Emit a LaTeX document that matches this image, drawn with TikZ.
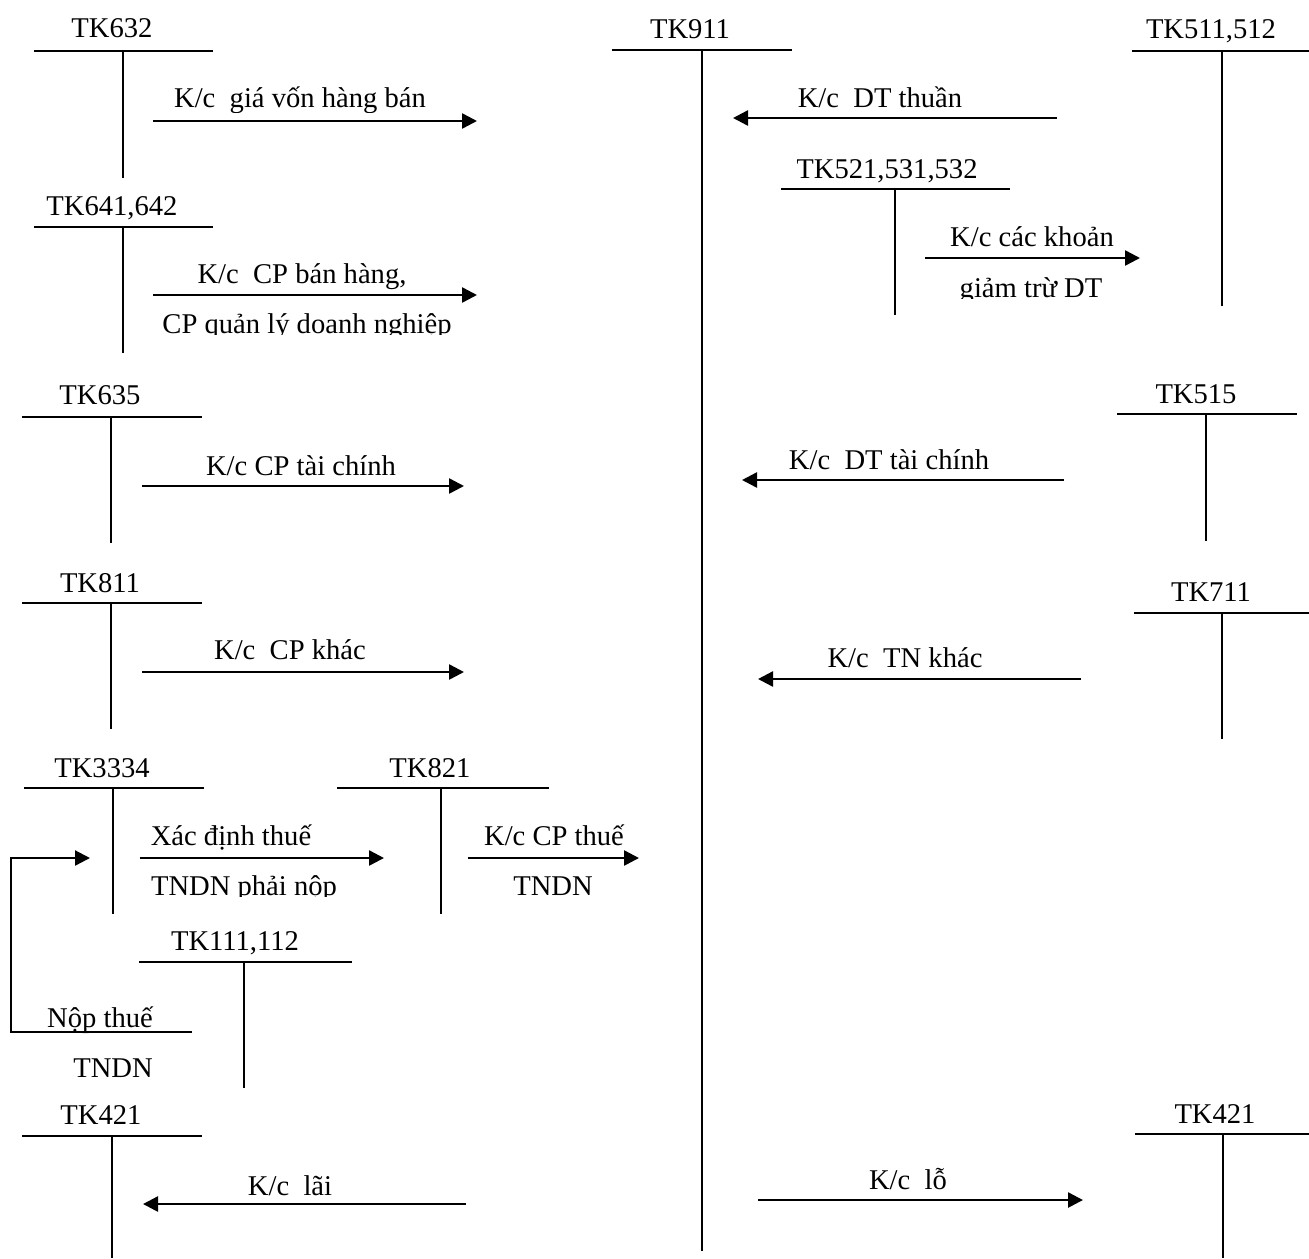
\documentclass[tikz,border=0pt]{standalone}
\usepackage{fontspec}
\setmainfont{Liberation Serif}
\usetikzlibrary{arrows.meta}

% T-account: name, title, title x, title baseline y, bar left x, bar right x, bar y, stem x, stem bottom y
\newcommand\TAcct[9]{%
  \node[acct] (#1) at (#3,#4) {#2};
  \coordinate (#1-l) at (#5,#7);
  \coordinate (#1-r) at (#6,#7);
  \coordinate (#1-t) at (#8,#7);
  \coordinate (#1-b) at (#8,#9);
  \draw[tbar] (#1-l) -- (#1-r);
  \draw[tstem] (#1-t) -- (#1-b);}

\tikzset{
  txt/.style={inner sep=0pt, anchor=base, font=\fontsize{14.3pt}{17pt}\selectfont},
  acct/.style={txt},
  tbar/.style={line width=0.85pt},
  tstem/.style={line width=0.7pt},
  flow/.style={line width=1.25pt, -{Triangle[length=7.5pt,width=7.5pt]}},
}

\begin{document}
\begin{tikzpicture}[x=0.5pt,y=-0.5pt]
\useasboundingbox (0,0) rectangle (1309,1258);

% accounts
\TAcct{a632}{TK632}{112}{37}{34}{213}{51}{123}{178}
\TAcct{a641}{TK641,642}{112}{215}{34}{213}{227}{123}{353}
\TAcct{a911}{TK911}{690}{38}{612}{792}{50}{702}{1251}
\TAcct{a511}{TK511,512}{1211}{38}{1132}{1309}{51}{1222}{306}
\begin{scope}
  \clip (797,140) rectangle (1010,188);
  \TAcct{a521}{TK521,531,532}{887}{178}{781}{1010}{189}{895}{315}
\end{scope}
\draw[tbar] (a521-l) -- (a521-r);
\draw[tstem] (a521-t) -- (a521-b);
\TAcct{a635}{TK635}{100}{404}{22}{202}{417}{111}{543}
\TAcct{a515}{TK515}{1196}{403}{1117}{1297}{414}{1206}{541}
\TAcct{a811}{TK811}{100}{592}{22}{202}{603}{111}{729}
\TAcct{a711}{TK711}{1211}{601}{1134}{1309}{613}{1222}{739}
\TAcct{a3334}{TK3334}{102}{777}{24}{204}{788}{113}{914}
\TAcct{a821}{TK821}{430}{777}{337}{549}{788}{441}{914}
\TAcct{a111}{TK111,112}{235}{950}{139}{352}{962}{244}{1088}
\TAcct{a421l}{TK421}{101}{1124}{22}{202}{1136}{112}{1258}
\TAcct{a421r}{TK421}{1215}{1123}{1135}{1309}{1134}{1223}{1258}

% transfers to TK911 (left side)
\coordinate (f1s) at (153,121);  \coordinate (f1e) at (477,121);
\draw[flow] (f1s) -- (f1e);
\begin{scope}
  \clip (140,60) rectangle (480,112);
  \node[txt] (t1) at (300,107) {K/c\ \ giá vốn hàng bán};
\end{scope}

\coordinate (f4s) at (153,295);  \coordinate (f4e) at (477,295);
\draw[flow] (f4s) -- (f4e);
\node[txt] (t4a) at (302,283) {K/c\ \ CP bán hàng,};
\begin{scope}
  \clip (140,300) rectangle (480,334);
  \node[txt] (t4b) at (307,333) {CP quản lý doanh nghiệp};
\end{scope}

\coordinate (f5s) at (142,486);  \coordinate (f5e) at (464,486);
\draw[flow] (f5s) -- (f5e);
\node[txt] (t5) at (301,475) {K/c CP tài chính};

\coordinate (f7s) at (142,672);  \coordinate (f7e) at (464,672);
\draw[flow] (f7s) -- (f7e);
\node[txt] (t7) at (290,659) {K/c\ \ CP khác};

% tax expense
\coordinate (f9s) at (140,858);  \coordinate (f9e) at (384,858);
\draw[flow] (f9s) -- (f9e);
\node[txt] (t9a) at (231,845) {Xác định thuế};
\begin{scope}
  \clip (140,862) rectangle (390,896);
  \node[txt] (t9b) at (244,895) {TNDN phải nộp};
\end{scope}

\coordinate (f10s) at (468,858); \coordinate (f10e) at (639,858);
\draw[flow] (f10s) -- (f10e);
\node[txt] (t10a) at (554,845) {K/c CP thuế};
\node[txt] (t10b) at (553,895) {TNDN};

% tax payment back into TK3334
\coordinate (f11s) at (192,1032); \coordinate (f11c) at (11,858); \coordinate (f11e) at (90,858);
\draw[flow, line width=1.1pt] (f11s) -| (f11c) -- (f11e);
\node[txt] (t11a) at (100,1027) {Nộp thuế};
\node[txt] (t11b) at (113,1077) {TNDN};

% transfers to TK911 (right side)
\coordinate (f2s) at (1057,118); \coordinate (f2e) at (733,118);
\draw[flow] (f2s) -- (f2e);
\node[txt] (t2) at (880,107) {K/c\ \ DT thuần};

\coordinate (f3s) at (925,258);  \coordinate (f3e) at (1140,258);
\draw[flow] (f3s) -- (f3e);
\node[txt] (t3a) at (1032,246) {K/c các khoản};
\begin{scope}
  \clip (920,262) rectangle (1150,298);
  \node[txt] (t3b) at (1031,297) {giảm trừ DT};
\end{scope}

\coordinate (f6s) at (1064,480); \coordinate (f6e) at (742,480);
\draw[flow] (f6s) -- (f6e);
\node[txt] (t6) at (889,469) {K/c\ \ DT tài chính};

\coordinate (f8s) at (1081,679); \coordinate (f8e) at (758,679);
\draw[flow] (f8s) -- (f8e);
\node[txt] (t8) at (905,667) {K/c\ \ TN khác};

% profit / loss
\coordinate (f12s) at (466,1204); \coordinate (f12e) at (143,1204);
\draw[flow] (f12s) -- (f12e);
\node[txt] (t12) at (290,1195) {K/c\ \ lãi};

\coordinate (f13s) at (758,1200); \coordinate (f13e) at (1083,1200);
\draw[flow] (f13s) -- (f13e);
\node[txt] (t13) at (908,1189) {K/c\ \ lỗ};
\end{tikzpicture}
\end{document}
